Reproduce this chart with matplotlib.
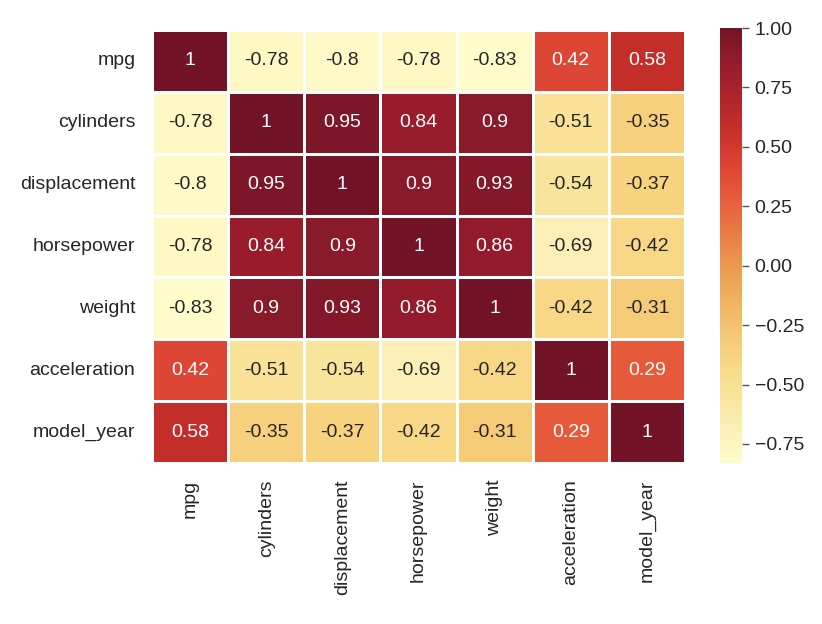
import matplotlib
matplotlib.use("Agg")
import matplotlib.pyplot as plt
from matplotlib.colors import LinearSegmentedColormap
import seaborn as sns
import numpy as np
import pandas as pd

labels = ["mpg", "cylinders", "displacement", "horsepower", "weight", "acceleration", "model_year"]
row_mpg = [1.0, -0.78, -0.80, -0.78, -0.83, 0.42, 0.58]
row_cyl = [-0.78, 1.0, 0.95, 0.84, 0.90, -0.51, -0.35]
row_disp = [-0.80, 0.95, 1.0, 0.90, 0.93, -0.54, -0.37]
row_hp = [-0.78, 0.84, 0.90, 1.0, 0.86, -0.69, -0.42]
row_wt = [-0.83, 0.90, 0.93, 0.86, 1.0, -0.42, -0.31]
row_acc = [0.42, -0.51, -0.54, -0.69, -0.42, 1.0, 0.29]
row_yr = [0.58, -0.35, -0.37, -0.42, -0.31, 0.29, 1.0]

corr = pd.DataFrame([row_mpg, row_cyl, row_disp, row_hp, row_wt, row_acc, row_yr],
                    index=labels, columns=labels)

# colour stops sampled from the reference colour bar (value, colour)
cmap_vals = [-0.83, -0.69, -0.51, -0.42, -0.31, 0.0, 0.29, 0.42, 0.58, 0.84, 0.90, 1.0]
cmap_cols = ["#fffccc", "#fbefb6", "#f9e196", "#f8d886", "#f5cb77", "#eb9a4e",
             "#e65a3b", "#dd4534", "#c52e2a", "#981c2c", "#8b1a2a", "#731327"]
vmin, vmax = min(cmap_vals), max(cmap_vals)
cmap = LinearSegmentedColormap.from_list(
    "ref", [((v - vmin) / (vmax - vmin), c) for v, c in zip(cmap_vals, cmap_cols)])

sns.set_style("white")
plt.rcParams['font.family'] = ['Liberation Sans', 'DejaVu Sans']
plt.rcParams['text.color'] = '#262626'
plt.rcParams['xtick.color'] = '#262626'
plt.rcParams['ytick.color'] = '#262626'

fig = plt.figure(figsize=(8.22, 6.24), dpi=100)
ax = fig.add_axes([152/822, 1 - 463/624, (685-152)/822, (463-30)/624])
cax = fig.add_axes([720/822, 1 - 463/624, 22/822, (463-28)/624])

sns.heatmap(corr, ax=ax, cbar_ax=cax, cmap=cmap, vmin=vmin, vmax=vmax, annot=True,
            linewidths=2, linecolor="white", annot_kws={"size": 14})
ax.tick_params(axis='both', length=0, labelsize=14, pad=12)
ax.set_xticklabels(labels, rotation=90)
ax.set_yticklabels(labels, rotation=0)
cax.tick_params(labelsize=14, length=5, width=1, color='#555555', pad=4)
for s in cax.spines.values():
    s.set_visible(False)

fig.savefig("out.png", dpi=100, facecolor="white")
